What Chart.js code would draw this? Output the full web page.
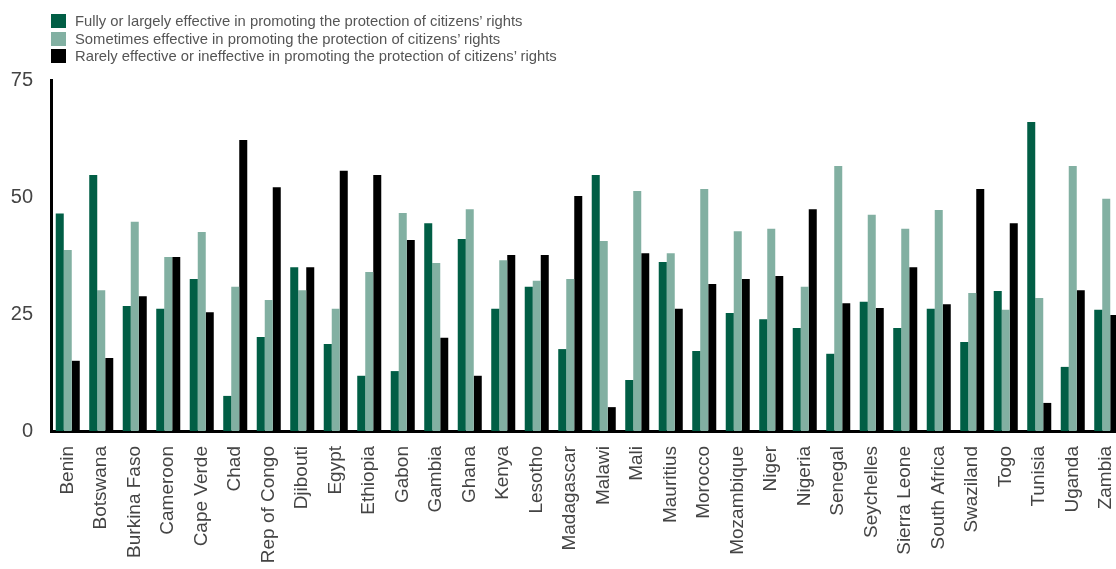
<!DOCTYPE html>
<html>
<head>
<meta charset="utf-8">
<script src="https://cdn.jsdelivr.net/npm/chart.js@4"></script>
<style>
  html,body{margin:0;padding:0;background:#fff;overflow:hidden;width:1116px;height:569px;}
  #wrap{position:absolute;left:0;top:0;width:1123px;height:569px;}
  #legend{position:absolute;left:51px;top:12px;font-family:"Liberation Sans",Arial,sans-serif;font-size:14.8px;color:#555;}
  #legend .row{display:flex;align-items:center;height:17.7px;white-space:nowrap;}
  #legend .sw{width:15px;height:14px;margin-right:9px;}
</style>
</head>
<body>
<div id="wrap"><canvas id="chart" width="1123" height="569"></canvas></div>
<div id="legend"></div>
<script>
// pays, dans l'ordre de l'axe
const categories = ["Benin","Botswana","Burkina Faso","Cameroon","Cape Verde","Chad","Rep of Congo","Djibouti","Egypt","Ethiopia","Gabon","Gambia","Ghana","Kenya","Lesotho","Madagascar","Malawi","Mali","Mauritius","Morocco","Mozambique","Niger","Nigeria","Senegal","Seychelles","Sierra Leone","South Africa","Swaziland","Togo","Tunisia","Uganda","Zambia"];

const fully     = [46.5,54.7,26.7,26.1,32.5,7.5,20.1,35.0,18.6,11.8,12.8,44.4,41.0,26.1,30.8,17.5,54.7,10.9,36.1,17.1,25.2,23.9,22.0,16.5,27.6,22.0,26.1,19.0,29.9,66.0,13.7,25.9];
const sometimes = [38.7,30.1,44.7,37.2,42.5,30.8,28.0,30.1,26.1,34.0,46.6,35.9,47.4,36.5,32.1,32.5,40.6,51.3,38.0,51.7,42.7,43.2,30.8,56.6,46.2,43.2,47.2,29.5,25.9,28.4,56.6,49.6];
const rarely    = [15.0,15.6,28.8,37.2,25.4,62.2,52.1,35.0,55.6,54.7,40.8,19.9,11.8,37.6,37.6,50.2,5.1,38.0,26.1,31.4,32.5,33.1,47.4,27.3,26.3,35.0,27.1,51.7,44.4,6.0,30.1,24.8];

const seriesLabels = [
  "Fully or largely effective in promoting the protection of citizens’ rights",
  "Sometimes effective in promoting the protection of citizens’ rights",
  "Rarely effective or ineffective in promoting the protection of citizens’ rights"
];
const yTicks = [0,25,50,75];

const colors = ["#015e45","#82b0a2","#000000"];
const font = "'Liberation Sans', Arial, sans-serif";

const chart = new Chart(document.getElementById("chart"), {
  type:"bar",
  data:{
    labels: categories,
    datasets: [fully, sometimes, rarely].map((d,i)=>({
      label: seriesLabels[i],
      data: d,
      backgroundColor: colors[i],
      borderWidth: 0,
      categoryPercentage: 0.717,
      barPercentage: 1
    }))
  },
  options:{
    responsive:false, animation:false,
    layout:{padding:{top:80,left:0,right:0,bottom:0}},
    plugins:{legend:{display:false}, tooltip:{enabled:false}},
    scales:{
      x:{
        grid:{display:false},
        border:{display:true,color:"#000",width:3},
        ticks:{maxRotation:90,minRotation:90,autoSkip:false,padding:7,color:"#444",font:{family:font,size:19}},
        afterFit:s=>{s.height=138; s.paddingLeft=0; s.paddingRight=0;}
      },
      y:{
        min:0,max:75,
        afterBuildTicks:s=>{s.ticks=yTicks.map(v=>({value:v}));},
        grid:{display:false},
        border:{display:true,color:"#000",width:3},
        ticks:{padding:10,color:"#444",font:{family:font,size:20}},
        afterFit:s=>{s.width=51;}
      }
    }
  }
});

// legende en colonne, construite depuis les datasets
document.getElementById("legend").innerHTML = chart.data.datasets.map(ds=>`
  <div class="row"><span class="sw" style="background:${ds.backgroundColor}"></span><span>${ds.label}</span></div>
`).join("");
</script>
</body>
</html>
